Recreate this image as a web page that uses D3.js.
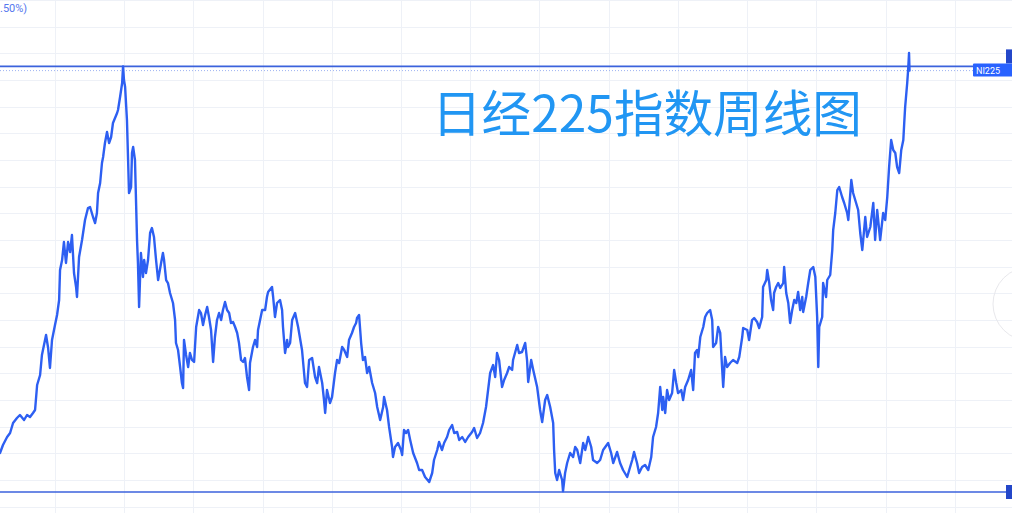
<!DOCTYPE html>
<html>
<head>
<meta charset="utf-8">
<script src="https://cdn.jsdelivr.net/npm/d3@7"></script>
<style>
  html, body { margin: 0; padding: 0; background: #ffffff; overflow: hidden; }
  svg { display: block; }
</style>
</head>
<body>
<svg id="chart" width="1012" height="513"></svg>
<script>
// ---- Data: Nikkei 225 weekly closes ----
const years = [
1984.62,1984.75,1984.93,1985.06,1985.19,1985.36,1985.49,1985.67,1985.80,1985.93,
1986.06,1986.15,1986.24,1986.37,1986.45,1986.54,1986.63,1986.72,1986.80,1986.89,
1987.02,1987.11,1987.20,1987.24,1987.33,1987.41,1987.50,1987.59,1987.68,1987.76,
1987.85,1987.94,1987.98,1988.07,1988.20,1988.33,1988.46,1988.55,1988.68,1988.77,
1988.85,1988.90,1988.99,1989.07,1989.12,1989.20,1989.29,1989.38,1989.47,1989.55,
1989.64,1989.73,1989.77,1989.86,1989.95,1989.99,1990.03,1990.08,1990.16,1990.21,
1990.25,1990.34,1990.38,1990.43,1990.51,1990.60,1990.64,1990.69,1990.77,1990.86,
1990.91,1990.99,1991.08,1991.17,1991.25,1991.34,1991.43,1991.52,1991.65,1991.73,
1991.78,1991.87,1991.95,1992.04,1992.17,1992.26,1992.30,1992.39,1992.48,1992.56,
1992.61,1992.65,1992.74,1992.83,1992.91,1993.00,1993.09,1993.18,1993.31,1993.39,
1993.48,1993.57,1993.66,1993.74,1993.83,1993.92,1994.00,1994.09,1994.18,1994.27,
1994.35,1994.44,1994.53,1994.62,1994.70,1994.79,1994.88,1994.97,1995.05,1995.14,
1995.23,1995.31,1995.40,1995.49,1995.53,1995.66,1995.75,1995.84,1995.88,1996.06,
1996.19,1996.27,1996.32,1996.49,1996.54,1996.62,1996.71,1996.84,1996.93,1996.97,
1997.06,1997.15,1997.19,1997.28,1997.37,1997.50,1997.63,1997.80,1997.93,1998.02,
1998.11,1998.24,1998.37,1998.46,1998.54,1998.68,1998.76,1998.81,1998.89,1999.02,
1999.11,1999.24,1999.33,1999.42,1999.55,1999.64,1999.77,1999.85,1999.98,2000.07,
2000.16,2000.20,2000.29,2000.38,2000.46,2000.55,2000.64,2000.73,2000.86,2000.99,
2001.08,2001.21,2001.34,2001.38,2001.51,2001.60,2001.73,2001.77,2001.86,2001.99,
2002.12,2002.17,2002.25,2002.34,2002.43,2002.52,2002.65,2002.82,2002.91,2003.04,
2003.17,2003.35,2003.48,2003.56,2003.70,2003.78,2003.91,2004.00,2004.13,2004.22,
2004.35,2004.44,2004.57,2004.66,2004.79,2004.92,2005.05,2005.22,2005.31,2005.44,
2005.57,2005.70,2005.83,2005.92,2006.01,2006.14,2006.23,2006.31,2006.40,2006.53,
2006.62,2006.75,2006.84,2006.97,2007.01,2007.19,2007.27,2007.40,2007.54,2007.62,
2007.67,2007.80,2007.89,2008.06,2008.19,2008.28,2008.41,2008.50,2008.63,2008.76,
2008.80,2008.85,2008.93,2009.02,2009.15,2009.19,2009.28,2009.37,2009.50,2009.63,
2009.72,2009.81,2009.94,2010.07,2010.16,2010.29,2010.42,2010.50,2010.68,2010.81,
2010.94,2011.16,2011.29,2011.38,2011.55,2011.68,2011.81,2011.99,2012.08,2012.21,
2012.29,2012.42,2012.51,2012.64,2012.77,2012.91,2013.04,2013.12,2013.25,2013.34,
2013.43,2013.52,2013.56,2013.65,2013.73,2013.82,2013.95,2014.04,2014.13,2014.21,
2014.35,2014.43,2014.52,2014.65,2014.78,2014.87,2014.95,2015.04,2015.09,2015.18,
2015.31,2015.39,2015.48,2015.61,2015.70,2015.74,2015.87,2015.96,2016.05,2016.13,
2016.18,2016.26,2016.35,2016.48,2016.61,2016.79,2016.88,2017.01,2017.05,2017.23,
2017.31,2017.44,2017.53,2017.66,2017.75,2017.88,2017.92,2018.06,2018.10,2018.19,
2018.27,2018.36,2018.40,2018.49,2018.58,2018.67,2018.80,2018.84,2018.93,2019.02,
2019.10,2019.19,2019.28,2019.37,2019.45,2019.54,2019.63,2019.67,2019.80,2019.89,
2019.98,2020.11,2020.20,2020.28,2020.33,2020.37,2020.50,2020.54,2020.67,2020.72,
2020.85,2020.94,2020.98,2021.07,2021.16,2021.24,2021.37,2021.46,2021.59,2021.64,
2021.77,2021.85,2021.98,2022.07,2022.16,2022.25,2022.38,2022.46,2022.60,2022.73,
2022.81,2022.90,2023.03,2023.16,2023.25,2023.34,2023.42,2023.51,2023.60,2023.69,
2023.77,2023.86,2023.95,2024.04,2024.08,2024.12,2024.21,2024.25,2024.29,2024.31
];
const closes = [
9920,10520,11120,11420,12170,12545,12770,12395,12770,12620,
12920,13145,15020,15770,17270,18020,18770,17795,16295,18395,
19520,20270,21395,23645,24395,25745,24170,25745,24995,26270,
23420,22370,21620,24620,25895,27395,28295,28370,27620,27170,
27920,29420,30170,31670,32120,33170,33995,33170,33620,34670,
35045,35420,35645,36620,37670,38916,37895,37370,34895,31895,
29420,29870,32420,32870,31895,25895,24170,20870,24920,23120,
24395,23420,24395,26420,26795,26120,24395,22895,24170,24920,
24395,22895,22670,21920,21170,19895,18170,17645,16370,15170,
14795,18395,17270,16370,17420,16895,16745,19370,20645,20420,
19520,20270,20870,20120,19145,16745,18620,19895,20420,19895,
20645,21245,20645,20420,19670,19745,19370,18920,18170,16895,
16745,17045,15620,14645,16670,17870,18395,17870,19145,20645,
20645,21620,21995,22370,21620,20120,21170,21395,20645,19370,
17420,18395,17870,18170,19895,20420,19370,17645,15170,14870,
16895,17045,15620,15170,16370,15170,13895,12920,14645,13670,
14120,15920,16895,16670,17870,17645,17120,18395,18920,19370,
19670,20045,20270,18170,16895,17120,15920,16370,15170,14420,
13370,12395,13370,14120,13145,11870,10370,9620,10370,10670,
10145,9770,11645,11420,11645,10895,9920,9170,8645,8645,
8120,7745,8420,9395,10145,10745,10145,10670,11120,11645,
12020,11420,11495,10895,11120,10745,11120,11495,11795,11045,
11420,12170,13370,14645,15920,16520,15620,17420,16895,14870,
15395,15920,16370,16145,16895,18020,17420,17495,18170,16895,
15245,16895,16145,14870,13145,12245,13895,14270,13370,12170,
10145,8420,7895,8645,7895,7055,8420,9170,9920,9620,
10370,10145,9170,10670,10145,11120,10370,9395,9170,9395,
10145,10670,9920,9170,9995,9170,8645,8120,8645,9395,
9995,9170,8420,8870,9020,8645,9620,11120,11870,12920,
14870,13145,14120,12920,14645,13895,14420,16145,15170,14420,
14645,13895,14870,15395,16145,14645,17420,17645,17120,18620,
19370,20120,20420,20645,19895,17870,18170,19370,18920,16370,
14870,17120,16370,16670,16895,16670,17120,18620,19295,19145,
18395,19895,20045,19745,19295,20120,22370,22895,23645,22670,
21395,20645,21920,22370,22670,22295,22670,23870,21920,21170,
19670,20645,21395,21170,21995,20645,21620,20495,21620,22670,
23645,23870,23120,20120,16370,19370,20120,22670,21620,22895,
23270,25145,26645,27920,29645,29870,29120,28670,27920,27395,
30395,29420,28670,28145,26420,25145,27620,26120,26870,28670,
25895,28145,25895,27920,27395,29120,31370,33395,32645,32420,
31370,30920,32645,33395,34670,35870,37670,38645,39920,38600
];
// horizontal drawing lines: 1989 closing high and 2008 low
const levelLines = [38916, 6995];
// gridline positions (time axis every ~3 years, price axis every 2000)
const gridYears = [1987.02,1990.03,1993.04,1996.10,1999.11,2002.12,2005.13,2008.15,2011.20,2014.21,2017.23,2020.24,2023.29,2026.30];
const gridValues = d3.range(5900, 44000, 2000);
const titleText = "日经225指数周线图";
const symbolLabel = "NI225";
const changeText = ".50%)";

// ---- Chart ----
const W = 1012, H = 513;
const svg = d3.select("#chart");
const x = d3.scaleLinear().domain([1984.62, 2024.31]).range([0, 909.5]);
const y = d3.scaleLinear().domain([6995, 38916]).range([492, 66.4]);

const data = years.map((t, i) => ({ t, v: closes[i] }));

// grid
svg.append("g").selectAll("line").data(gridYears).join("line")
  .attr("x1", d => Math.round(x(d)) + 0.5).attr("x2", d => Math.round(x(d)) + 0.5)
  .attr("y1", 0).attr("y2", H)
  .attr("stroke", "#eef1f7").attr("stroke-width", 1);
svg.append("g").selectAll("line").data(gridValues).join("line")
  .attr("y1", d => Math.round(y(d)) + 0.5).attr("y2", d => Math.round(y(d)) + 0.5)
  .attr("x1", 0).attr("x2", W)
  .attr("stroke", "#eef1f7").attr("stroke-width", 1);

// faint circle button at right edge
svg.append("circle").attr("cx", 1030).attr("cy", 304).attr("r", 37)
  .attr("fill", "none").attr("stroke", "#e8e8ec").attr("stroke-width", 1);

// last price dotted line
const last = closes[closes.length - 1];
svg.append("line")
  .attr("x1", 0).attr("x2", W)
  .attr("y1", y(last)).attr("y2", y(last))
  .attr("stroke", "#9db2f2").attr("stroke-width", 1)
  .attr("stroke-dasharray", "1,2");

// level lines
svg.append("g").selectAll("line").data(levelLines).join("line")
  .attr("x1", 0).attr("x2", W)
  .attr("y1", d => y(d)).attr("y2", d => y(d))
  .attr("stroke", "#3b62dc").attr("stroke-width", 1.6);

// price line
const line = d3.line().x(d => x(d.t)).y(d => y(d.v)).curve(d3.curveLinear);
svg.append("path").datum(data)
  .attr("d", line)
  .attr("fill", "none")
  .attr("stroke", "#2d5ff2")
  .attr("stroke-width", 2.4)
  .attr("stroke-linejoin", "round")
  .attr("stroke-linecap", "round");

// line handles at right edge
svg.append("rect").attr("x", 1006).attr("y", y(levelLines[0]) - 17).attr("width", 8).attr("height", 14)
  .attr("fill", "#2447c9");
svg.append("rect").attr("x", 1006).attr("y", y(levelLines[1]) - 7).attr("width", 8).attr("height", 14)
  .attr("fill", "#2447c9");

// symbol label
const ly = y(last);
svg.append("rect").attr("x", 973).attr("y", ly - 7).attr("width", 40).attr("height", 13)
  .attr("fill", "#2962ff").attr("rx", 1);
svg.append("text").attr("x", 976).attr("y", ly + 3)
  .attr("font-family", "Roboto, 'Noto Sans', sans-serif").attr("font-size", 9)
  .attr("fill", "#ffffff").text(symbolLabel);

// top-left change text
svg.append("text").attr("x", 0).attr("y", 12)
  .attr("font-family", "Roboto, 'Noto Sans', sans-serif").attr("font-size", 11)
  .attr("fill", "#5577ee").text(changeText);

// title
svg.append("text").attr("x", 432).attr("y", 132)
  .attr("font-family", "'Noto Sans CJK SC', sans-serif").attr("font-size", 50)
  .attr("fill", "#2196f3")
  .attr("textLength", 430).attr("lengthAdjust", "spacingAndGlyphs")
  .text(titleText);
</script>
</body>
</html>
